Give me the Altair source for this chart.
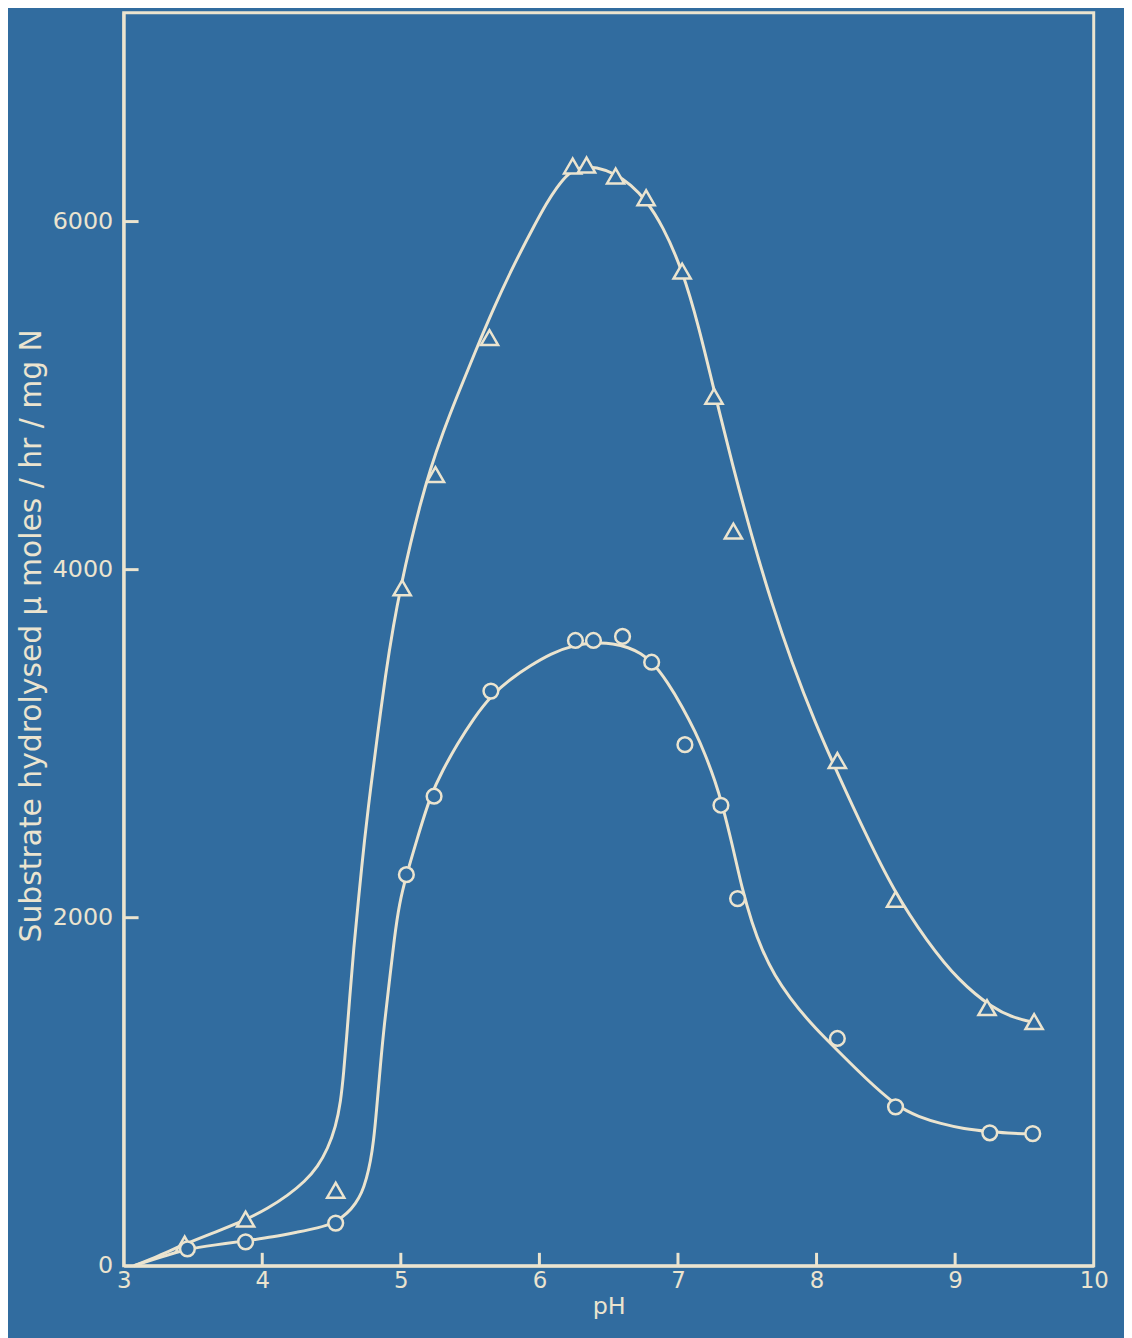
import altair as alt
import pandas as pd

BG = "#316c9f"
FG = "#ebe4cf"
FONT = "DejaVu Sans"

# Measured points (pH, substrate hydrolysed)
tri_ph = [3.44, 3.88, 4.53, 5.01, 5.25, 5.64, 6.24, 6.34, 6.55, 6.77, 7.03, 7.26, 7.40, 8.15, 8.57, 9.23, 9.57]
tri_val = [125, 268, 434, 3895, 4546, 5333, 6319, 6325, 6262, 6137, 5715, 4996, 4221, 2903, 2105, 1483, 1403]

circ_ph = [3.46, 3.88, 4.53, 5.04, 5.24, 5.65, 6.26, 6.39, 6.60, 6.81, 7.05, 7.31, 7.43, 8.15, 8.57, 9.25, 9.56]
circ_val = [97, 137, 245, 2247, 2698, 3302, 3593, 3593, 3616, 3468, 2994, 2646, 2110, 1306, 913, 764, 759]

# Hand-drawn fitted curves
up_ph = [3.075, 3.254, 3.441, 3.663, 3.878, 4.043, 4.186, 4.308, 4.401, 4.473, 4.530, 4.566,
         4.588, 4.609, 4.631, 4.660, 4.695, 4.738, 4.781, 4.832, 4.889, 4.946, 5.004, 5.068,
         5.140, 5.211, 5.305, 5.405, 5.534, 5.670, 5.821, 5.978, 6.050, 6.122, 6.215, 6.301,
         6.409, 6.552, 6.659, 6.767, 6.889, 7.032, 7.147, 7.269, 7.391, 7.534, 7.677, 7.821,
         7.986, 8.165, 8.344, 8.559, 8.796, 9.025, 9.276, 9.419, 9.570]
up_val = [0, 57, 125, 194, 262, 331, 405, 485, 570, 673, 798, 941,
          1112, 1312, 1540, 1825, 2110, 2452, 2738, 3051, 3394, 3679, 3918, 4146,
          4375, 4574, 4791, 4996, 5247, 5504, 5761, 6000, 6103, 6194, 6285, 6314,
          6314, 6274, 6211, 6126, 5977, 5721, 5407, 5002, 4608, 4186, 3804, 3468,
          3126, 2806, 2498, 2150, 1865, 1637, 1477, 1426, 1397]

lo_ph = [3.075, 3.254, 3.455, 3.663, 3.878, 4.079, 4.258, 4.401, 4.523, 4.616, 4.674, 4.717,
         4.753, 4.781, 4.803, 4.824, 4.853, 4.882, 4.918, 4.953, 4.989, 5.039, 5.118, 5.211,
         5.305, 5.405, 5.527, 5.656, 5.799, 5.928, 6.086, 6.244, 6.409, 6.530, 6.645, 6.731,
         6.817, 6.925, 7.032, 7.125, 7.197, 7.269, 7.319, 7.391, 7.462, 7.534, 7.606, 7.699,
         7.807, 7.935, 8.057, 8.179, 8.344, 8.581, 8.738, 8.896, 9.061, 9.254, 9.419, 9.577]
lo_val = [0, 46, 97, 120, 143, 165, 194, 217, 245, 302, 359, 416,
          502, 599, 713, 884, 1158, 1397, 1637, 1882, 2082, 2241, 2453, 2698,
          2852, 2994, 3148, 3280, 3376, 3445, 3519, 3565, 3582, 3576, 3553, 3519,
          3468, 3354, 3211, 3068, 2937, 2783, 2652, 2424, 2167, 1968, 1814, 1665,
          1540, 1414, 1312, 1215, 1084, 913, 856, 816, 787, 770, 759, 759]

x_ticks = [4, 5, 6, 7, 8, 9]
y_ticks = [2000, 4000, 6000]
x_labels = [3, 4, 5, 6, 7, 8, 9, 10]
y_labels = [0, 2000, 4000, 6000]

W, H = 977, 1262

xs = alt.Scale(domain=[3, 10], nice=False, zero=False)
ys = alt.Scale(domain=[0, 7200], nice=False, zero=False)

x_axis = alt.Axis(values=x_labels, format="d", ticks=False, grid=False, domain=True,
                  domainColor=FG, domainWidth=3, labelColor=FG, labelFont=FONT,
                  labelFontSize=23, labelPadding=4, labelFlush=False, title="pH",
                  titleColor=FG, titleFont=FONT, titleFontSize=24,
                  titleFontWeight="normal", titlePadding=2)
y_axis = alt.Axis(values=y_labels, format="d", ticks=False, grid=False, domain=True,
                  domainColor=FG, domainWidth=3, labelColor=FG, labelFont=FONT,
                  labelFontSize=24, labelPadding=11, labelFlush=False,
                  title="Substrate hydrolysed μ moles / hr / mg N",
                  titleColor=FG, titleFont=FONT, titleFontSize=30, titleFontWeight="normal",
                  titleX=-93, titleY=627, titleAlign="center", titleBaseline="middle")

up_df = pd.DataFrame({"ph": up_ph, "v": up_val})
lo_df = pd.DataFrame({"ph": lo_ph, "v": lo_val})
tri_df = pd.DataFrame({"ph": tri_ph, "v": tri_val})
circ_df = pd.DataFrame({"ph": circ_ph, "v": circ_val})
xt_df = pd.DataFrame({"t": x_ticks})
yt_df = pd.DataFrame({"t": y_ticks})

base_x = alt.X("ph:Q", scale=xs, axis=x_axis)
base_y = alt.Y("v:Q", scale=ys, axis=y_axis)

up_line = alt.Chart(up_df).mark_line(interpolate="basis", color=FG, strokeWidth=3).encode(
    x=base_x, y=base_y)
lo_line = alt.Chart(lo_df).mark_line(interpolate="basis", color=FG, strokeWidth=3).encode(
    x="ph:Q", y="v:Q")
tri = alt.Chart(tri_df).mark_point(shape="triangle-up", filled=True, fill=BG, stroke=FG,
                                    strokeWidth=2.5, size=300, opacity=1).encode(
    x="ph:Q", y="v:Q")
circ = alt.Chart(circ_df).mark_point(shape="circle", filled=True, fill=BG, stroke=FG,
                                      strokeWidth=2.5, size=220, opacity=1).encode(
    x="ph:Q", y="v:Q")
xt = alt.Chart(xt_df).mark_rule(color=FG, strokeWidth=3).encode(
    x="t:Q", y=alt.value(H), y2=alt.value(H - 13))
yt = alt.Chart(yt_df).mark_rule(color=FG, strokeWidth=3).encode(
    y="t:Q", x=alt.value(0), x2=alt.value(15))

chart = alt.layer(up_line, lo_line, xt, yt, tri, circ).properties(
    width=W, height=H,
    autosize=alt.AutoSizeParams(type="none"),
    padding={"left": 116.5, "top": 0, "right": 30.5, "bottom": 68},
    background=BG,
).configure_view(stroke=FG, strokeWidth=3, fill=BG)

chart.save("out.html", embed_options={"renderer": "svg", "actions": False})
